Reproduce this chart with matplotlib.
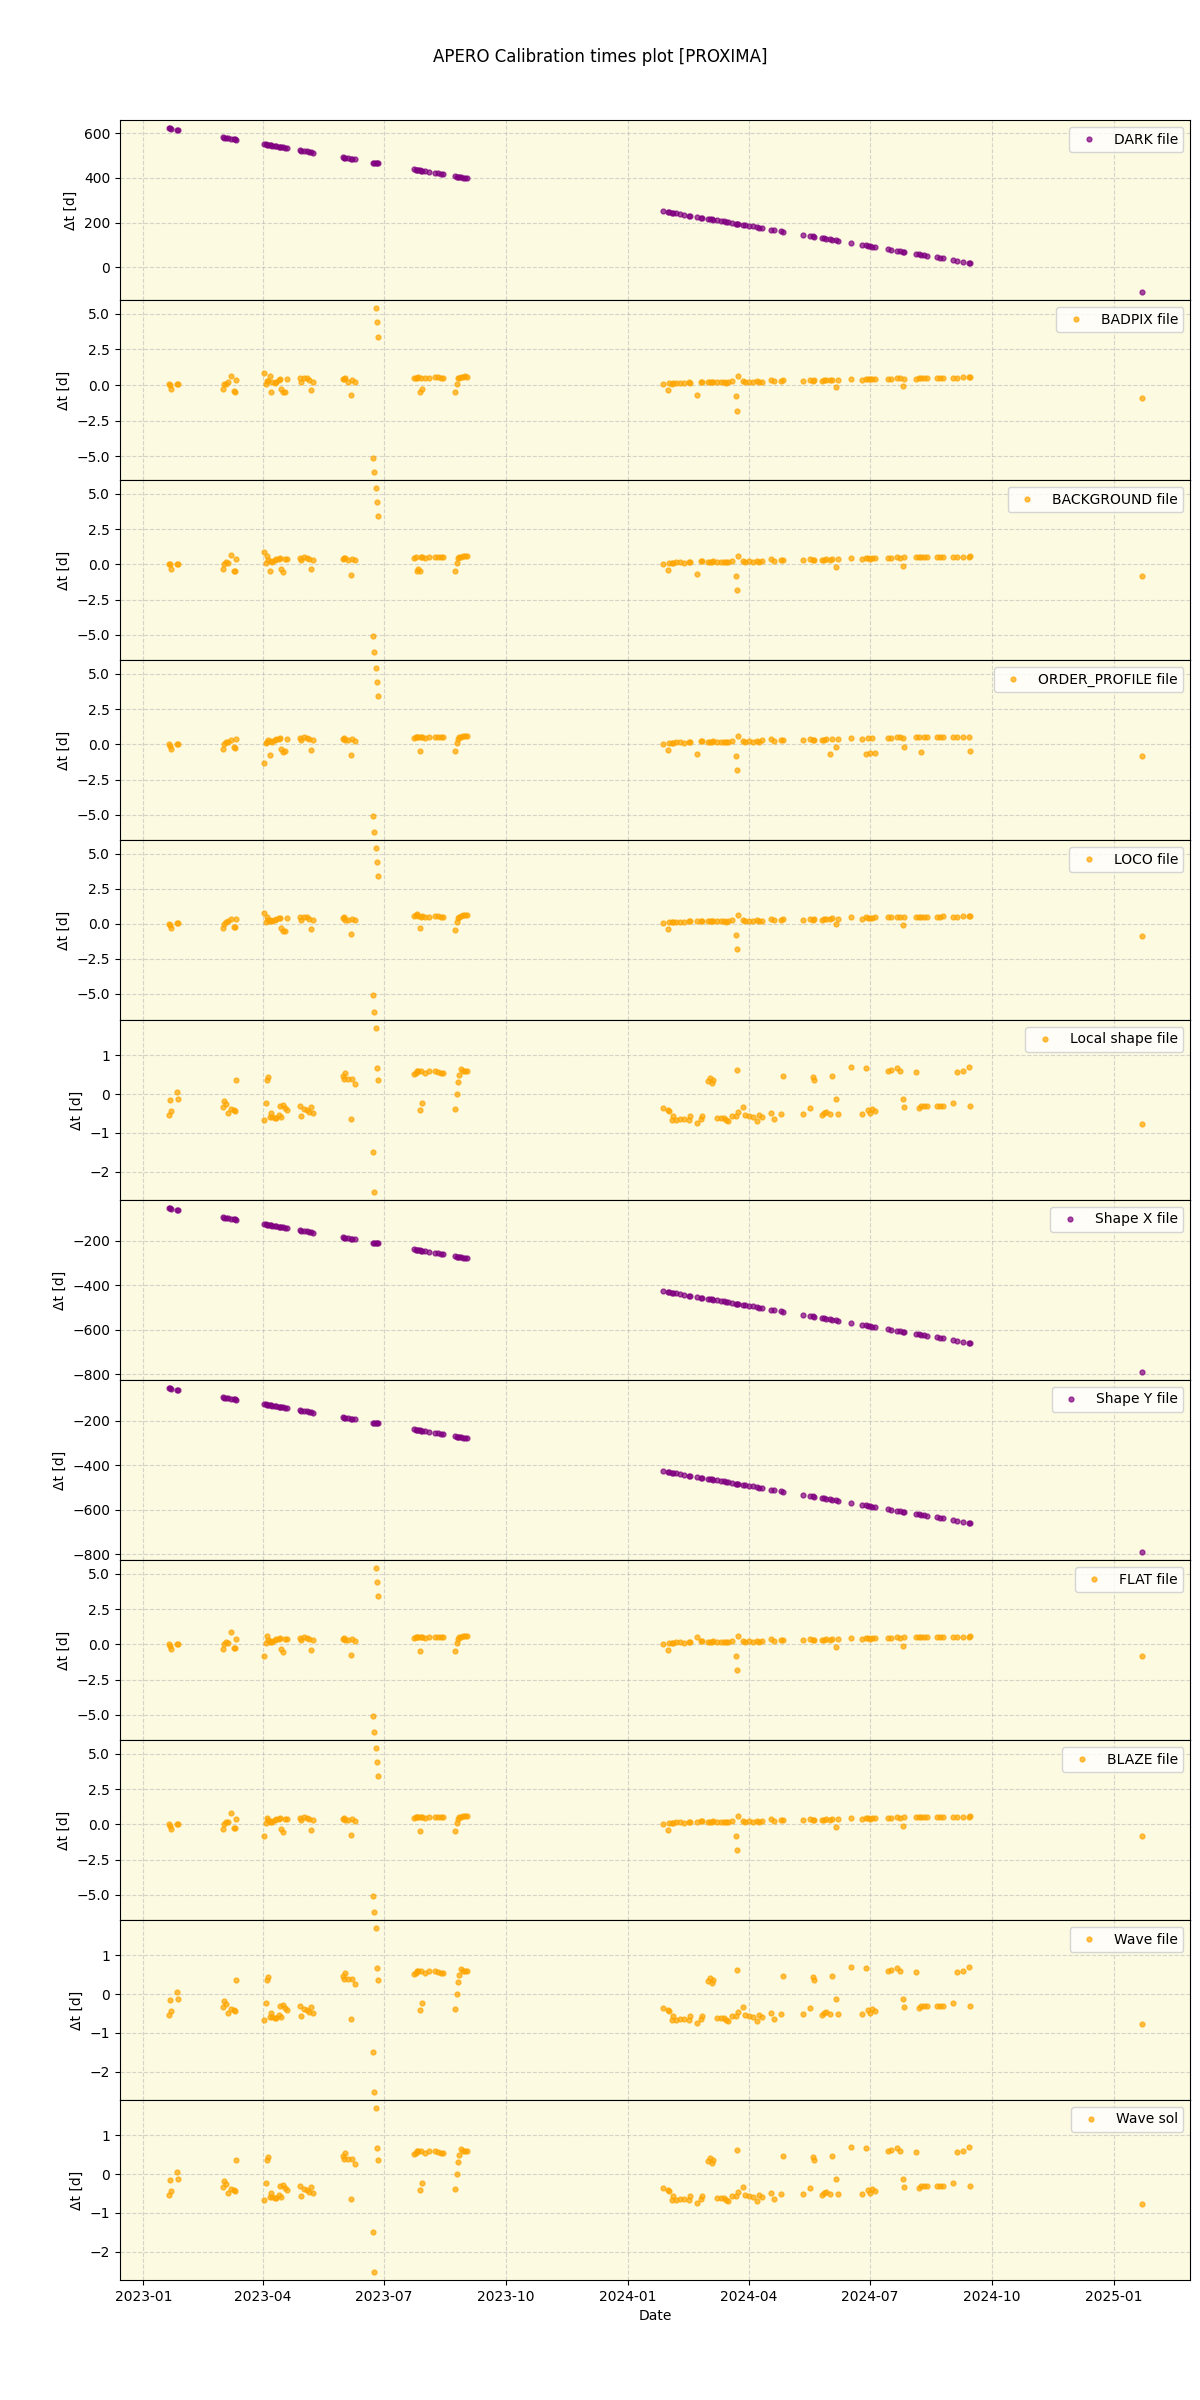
import pandas as pd
import matplotlib
matplotlib.use("Agg")
import matplotlib.pyplot as plt

# observation nights (shared by every panel)
obs_dates = [
    # 2023
    '2023-01-20', '2023-01-21', '2023-01-22', '2023-01-26', '2023-01-27',
    '2023-03-02', '2023-03-03', '2023-03-04', '2023-03-06', '2023-03-08', '2023-03-10', '2023-03-11', '2023-03-12',
    '2023-04-02', '2023-04-03', '2023-04-04', '2023-04-05', '2023-04-06', '2023-04-07', '2023-04-08', '2023-04-10',
    '2023-04-11', '2023-04-13', '2023-04-14', '2023-04-15', '2023-04-16', '2023-04-18', '2023-04-19',
    '2023-04-29', '2023-04-30', '2023-05-02', '2023-05-04', '2023-05-06', '2023-05-07', '2023-05-09',
    '2023-05-31', '2023-06-01', '2023-06-02', '2023-06-04', '2023-06-06', '2023-06-07', '2023-06-09',
    '2023-06-23', '2023-06-24', '2023-06-25', '2023-06-26', '2023-06-27',
    '2023-07-24', '2023-07-25', '2023-07-26', '2023-07-27', '2023-07-28', '2023-07-29', '2023-07-30', '2023-08-01', '2023-08-04',
    '2023-08-09', '2023-08-11', '2023-08-13', '2023-08-15',
    '2023-08-24', '2023-08-25', '2023-08-26', '2023-08-27', '2023-08-28', '2023-08-30', '2023-08-31', '2023-09-02',
    # 2024
    '2024-01-27', '2024-01-31', '2024-02-01', '2024-02-03', '2024-02-04', '2024-02-06', '2024-02-09', '2024-02-12',
    '2024-02-16', '2024-02-17', '2024-02-22', '2024-02-25', '2024-02-26',
    '2024-03-01', '2024-03-03', '2024-03-04', '2024-03-05', '2024-03-08', '2024-03-11', '2024-03-13', '2024-03-15',
    '2024-03-16', '2024-03-19', '2024-03-22', '2024-03-23', '2024-03-24', '2024-03-28', '2024-03-29',
    '2024-04-01', '2024-04-04', '2024-04-07', '2024-04-09', '2024-04-11', '2024-04-18', '2024-04-20', '2024-04-25', '2024-04-27',
    '2024-05-12', '2024-05-17', '2024-05-19', '2024-05-20', '2024-05-26', '2024-05-28', '2024-05-29', '2024-06-01',
    '2024-06-03', '2024-06-06', '2024-06-07', '2024-06-17',
    '2024-06-25', '2024-06-28', '2024-06-30', '2024-07-01', '2024-07-03', '2024-07-05', '2024-07-15', '2024-07-17',
    '2024-07-22', '2024-07-24', '2024-07-26', '2024-07-27',
    '2024-08-05', '2024-08-07', '2024-08-09', '2024-08-11', '2024-08-13', '2024-08-21', '2024-08-23', '2024-08-25',
    '2024-09-02', '2024-09-05', '2024-09-09', '2024-09-14', '2024-09-15',
    '2025-01-22',
]

dt_dark = [
    623, 622, 621, 617, 616,
    582, 581, 580, 578, 576, 574, 573, 572,
    551, 550, 549, 548, 547, 546, 545, 543, 542, 540, 539, 538, 537, 535, 534,
    524, 523, 521, 519, 517, 516, 514,
    492, 491, 490, 488, 486, 485, 483,
    469, 468, 467, 466, 465,
    438, 437, 436, 435, 434, 433, 432, 430, 427,
    422, 420, 418, 416,
    407, 406, 405, 404, 403, 401, 400, 398,
    251, 247, 246, 244, 243, 241, 238, 235, 231, 230, 225, 222, 221,
    217, 215, 214, 213, 210, 207, 205, 203, 202, 199, 196, 195, 194, 190, 189,
    186, 183, 180, 178, 176, 169, 167, 162, 160,
    145, 140, 138, 137, 131, 129, 128, 125, 123, 120, 119, 109,
    101, 98, 96, 95, 93, 91, 81, 79, 74, 72, 70, 69,
    60, 58, 56, 54, 52, 44, 42, 40, 32, 29, 25, 20, 19,
    -110,
]

dt_shape = [
    -55, -56, -57, -61, -62,
    -96, -97, -98, -100, -102, -104, -105, -106,
    -127, -128, -129, -130, -131, -132, -133, -135, -136, -138, -139, -140, -141, -143, -144,
    -154, -155, -157, -159, -161, -162, -164,
    -186, -187, -188, -190, -192, -193, -195,
    -209, -210, -211, -212, -213,
    -240, -241, -242, -243, -244, -245, -246, -248, -251,
    -256, -258, -260, -262,
    -271, -272, -273, -274, -275, -277, -278, -280,
    -427, -431, -432, -434, -435, -437, -440, -443, -447, -448, -453, -456, -457,
    -461, -463, -464, -465, -468, -471, -473, -475, -476, -479, -482, -483, -484, -488, -489,
    -492, -495, -498, -500, -502, -509, -511, -516, -518,
    -533, -538, -540, -541, -547, -549, -550, -553, -555, -558, -559, -569,
    -577, -580, -582, -583, -585, -587, -597, -599, -604, -606, -608, -609,
    -618, -620, -622, -624, -626, -634, -636, -638, -646, -649, -653, -658, -659,
    -788,
]

dt_badpix = [
    0.05, 0.0, -0.3, 0.05, 0.08,
    -0.3, 0.05, 0.1, 0.2, 0.64, -0.45, -0.47, 0.35,
    0.83, 0.07, 0.3, 0.28, 0.64, -0.52, 0.24, 0.12, 0.2, 0.35, 0.4, -0.3, -0.52, -0.52, 0.4,
    0.47, 0.24, 0.5, 0.47, 0.35, -0.35, 0.24,
    0.4, 0.45, 0.47, 0.24, -0.73, 0.35, 0.24,
    -5.1, -6.1, 5.4, 4.4, 3.4,
    0.47, 0.5, 0.52, 0.59, -0.47, 0.5, -0.3, 0.47, 0.47,
    0.59, 0.55, 0.5, 0.5,
    -0.47, 0.07, 0.47, 0.5, 0.55, 0.59, 0.6, 0.59,
    0.05, -0.35, 0.12, 0.1, 0.12, 0.12, 0.15, 0.12, 0.18, 0.15, -0.73, 0.2, 0.22,
    0.2, 0.18, 0.2, 0.22, 0.2, 0.18, 0.2, 0.15, 0.2, 0.25, -0.8, -1.8, 0.64, 0.25, 0.2,
    0.22, 0.2, 0.25, 0.2, 0.22, 0.35, 0.25, 0.3, 0.33,
    0.27, 0.35, 0.3, 0.33, 0.3, 0.33, 0.35, 0.33, 0.38, -0.17, 0.35, 0.45,
    0.35, 0.45, 0.42, 0.4, 0.42, 0.4, 0.4, 0.45, 0.48, 0.47, -0.07, 0.45,
    0.45, 0.48, 0.5, 0.5, 0.5, 0.48, 0.5, 0.5, 0.5, 0.48, 0.55, 0.55, 0.57,
    -0.88,
]

dt_background = [
    0.05, 0.0, -0.3, 0.05, 0.05,
    -0.3, 0.0, 0.2, 0.1, 0.65, -0.45, -0.5, 0.35,
    0.85, 0.1, 0.6, 0.3, -0.5, 0.25, 0.2, 0.3, 0.35, 0.4, 0.42, -0.3, -0.55, 0.4, 0.4,
    0.47, 0.3, 0.5, 0.47, 0.35, -0.35, 0.3,
    0.4, 0.45, 0.47, 0.3, -0.75, 0.35, 0.3,
    -5.1, -6.2, 5.4, 4.4, 3.4,
    0.47, 0.5, -0.45, -0.3, -0.5, 0.5, 0.52, 0.47, 0.5,
    0.55, 0.55, 0.5, 0.5,
    -0.45, 0.07, 0.47, 0.5, 0.55, 0.59, 0.6, 0.59,
    0.05, -0.38, 0.12, 0.1, 0.12, 0.15, 0.15, 0.12, 0.2, 0.18, -0.7, 0.22, 0.22,
    0.2, 0.18, 0.2, 0.22, 0.2, 0.18, 0.2, 0.15, 0.2, 0.25, -0.8, -1.8, 0.62, 0.25, 0.2,
    0.22, 0.2, 0.25, 0.2, 0.22, 0.35, 0.25, 0.3, 0.33,
    0.3, 0.35, 0.3, 0.33, 0.3, 0.33, 0.35, 0.33, 0.38, -0.2, 0.35, 0.48,
    0.35, 0.45, 0.42, 0.4, 0.42, 0.45, 0.45, 0.45, 0.5, 0.47, -0.1, 0.5,
    0.5, 0.5, 0.5, 0.5, 0.5, 0.5, 0.5, 0.52, 0.5, 0.5, 0.55, 0.55, 0.57,
    -0.85,
]

dt_order_profile = [
    0.0, -0.1, -0.3, 0.05, 0.05,
    -0.3, 0.0, 0.15, 0.2, 0.3, -0.2, -0.25, 0.35,
    -1.3, 0.1, 0.2, 0.3, -0.75, 0.25, 0.2, 0.3, 0.35, 0.4, 0.42, -0.3, -0.55, -0.5, 0.4,
    0.47, 0.3, 0.5, 0.45, 0.35, -0.4, 0.3,
    0.4, 0.45, 0.3, 0.3, -0.75, 0.35, 0.25,
    -5.1, -6.2, 5.4, 4.4, 3.4,
    0.47, 0.5, 0.52, 0.55, -0.45, 0.5, 0.52, 0.47, 0.5,
    0.55, 0.55, 0.5, 0.5,
    -0.45, 0.1, 0.4, 0.5, 0.55, 0.59, 0.6, 0.59,
    0.05, -0.4, 0.12, 0.1, 0.12, 0.15, 0.15, 0.12, 0.2, 0.18, -0.7, 0.22, 0.22,
    0.2, 0.18, 0.2, 0.22, 0.2, 0.18, 0.2, 0.15, 0.2, 0.25, -0.8, -1.8, 0.6, 0.25, 0.2,
    0.22, 0.2, 0.25, 0.2, 0.3, 0.35, 0.25, 0.3, 0.33,
    0.3, 0.35, 0.3, 0.33, 0.3, 0.33, 0.35, -0.65, 0.38, -0.2, 0.35, 0.48,
    0.35, -0.65, 0.42, -0.6, 0.45, -0.6, 0.45, 0.45, 0.5, 0.5, 0.47, -0.2,
    0.5, 0.5, -0.55, 0.5, 0.5, 0.5, 0.5, 0.52, 0.5, 0.5, 0.55, 0.55, -0.45,
    -0.85,
]

dt_loco = [
    0.0, -0.1, -0.3, 0.05, 0.05,
    -0.3, 0.0, 0.1, 0.2, 0.35, -0.2, -0.25, 0.35,
    0.75, 0.1, 0.5, 0.3, 0.2, 0.25, 0.2, 0.3, 0.35, 0.4, 0.42, -0.3, -0.55, -0.5, 0.4,
    0.47, 0.3, 0.5, 0.45, 0.35, -0.35, 0.3,
    0.4, 0.45, 0.3, 0.3, -0.75, 0.35, 0.25,
    -5.1, -6.3, 5.4, 4.4, 3.4,
    0.55, 0.6, 0.7, 0.55, -0.3, 0.5, 0.52, 0.47, 0.5,
    0.55, 0.55, 0.5, 0.5,
    -0.45, 0.1, 0.4, 0.5, 0.55, 0.59, 0.6, 0.59,
    0.05, -0.4, 0.12, 0.1, 0.12, 0.15, 0.15, 0.12, 0.2, 0.18, 0.2, 0.22, 0.22,
    0.2, 0.18, 0.2, 0.22, 0.2, 0.18, 0.2, 0.15, 0.2, 0.25, -0.8, -1.8, 0.6, 0.25, 0.2,
    0.22, 0.2, 0.25, 0.2, 0.22, 0.35, 0.25, 0.3, 0.33,
    0.3, 0.35, 0.3, 0.33, 0.3, 0.33, 0.35, 0.33, 0.38, -0.05, 0.35, 0.48,
    0.35, 0.45, 0.42, 0.4, 0.42, 0.45, 0.45, 0.45, 0.5, 0.47, -0.1, 0.5,
    0.5, 0.5, 0.5, 0.5, 0.5, 0.5, 0.5, 0.52, 0.5, 0.5, 0.55, 0.55, 0.57,
    -0.85,
]

dt_local_shape = [
    -0.53, -0.15, -0.43, 0.06, -0.12,
    -0.33, -0.17, -0.25, -0.49, -0.38, -0.42, -0.44, 0.36,
    -0.66, -0.23, 0.36, 0.44, -0.6, -0.49, -0.59, -0.62, -0.62, -0.54, -0.32, -0.59, -0.28, -0.36, -0.4,
    -0.3, -0.56, -0.38, -0.42, -0.45, -0.33, -0.49,
    0.47, 0.38, 0.54, 0.38, -0.64, 0.38, 0.27,
    -1.49, -2.51, 1.69, 0.66, 0.36,
    0.52, 0.55, 0.58, 0.6, -0.4, 0.58, -0.23, 0.55, 0.58,
    0.59, 0.57, 0.55, 0.55,
    -0.38, 0.0, 0.3, 0.5, 0.65, 0.6, 0.6, 0.59,
    -0.36, -0.4, -0.44, -0.66, -0.57, -0.66, -0.64, -0.64, -0.66, -0.57, -0.74, -0.64, -0.57,
    0.33, 0.41, 0.28, 0.36, -0.62, -0.62, -0.62, -0.66, -0.68, -0.56, -0.57, 0.62, -0.47, -0.33, -0.53,
    -0.57, -0.59, -0.7, -0.53, -0.59, -0.49, -0.64, -0.5, 0.46,
    -0.51, -0.36, 0.44, 0.36, -0.53, -0.49, -0.46, -0.51, 0.46, -0.13, -0.51, 0.69,
    -0.51, 0.67, -0.4, -0.49, -0.38, -0.43, 0.6, 0.62, 0.67, 0.6, -0.13, -0.33,
    0.57, -0.36, -0.32, -0.3, -0.3, -0.32, -0.3, -0.3, -0.23, 0.57, 0.58, 0.69, -0.31,
    -0.76,
]

dt_flat = [
    0.0, -0.1, -0.3, 0.05, 0.05,
    -0.3, 0.0, 0.15, 0.1, 0.85, -0.25, -0.25, 0.35,
    -0.8, 0.1, 0.6, 0.3, 0.2, 0.25, 0.2, 0.3, 0.35, 0.4, 0.42, -0.35, -0.55, 0.4, 0.4,
    0.47, 0.3, 0.5, 0.45, 0.35, -0.4, 0.3,
    0.4, 0.45, 0.3, 0.3, -0.75, 0.35, 0.25,
    -5.1, -6.2, 5.4, 4.4, 3.4,
    0.47, 0.5, 0.52, 0.55, -0.45, 0.5, 0.52, 0.47, 0.5,
    0.55, 0.55, 0.5, 0.5,
    -0.45, 0.1, 0.4, 0.5, 0.55, 0.59, 0.6, 0.59,
    0.05, -0.38, 0.12, 0.1, 0.12, 0.15, 0.15, 0.12, 0.2, 0.18, 0.5, 0.22, 0.22,
    0.2, 0.18, 0.2, 0.22, 0.2, 0.18, 0.2, 0.15, 0.2, 0.25, -0.8, -1.8, 0.62, 0.25, 0.2,
    0.22, 0.2, 0.25, 0.2, 0.22, 0.35, 0.25, 0.3, 0.33,
    0.3, 0.35, 0.3, 0.33, 0.3, 0.33, 0.35, 0.33, 0.38, -0.2, 0.35, 0.48,
    0.35, 0.45, 0.42, 0.4, 0.42, 0.45, 0.45, 0.45, 0.5, 0.47, -0.15, 0.5,
    0.5, 0.5, 0.5, 0.5, 0.5, 0.5, 0.5, 0.52, 0.5, 0.5, 0.55, 0.55, 0.57,
    -0.85,
]

dt_blaze = [
    0.0, -0.1, -0.3, 0.05, 0.05,
    -0.3, 0.0, 0.15, 0.2, 0.8, -0.25, -0.25, 0.35,
    -0.8, 0.1, 0.45, 0.3, 0.2, 0.25, 0.2, 0.3, 0.35, 0.4, 0.42, -0.35, -0.55, 0.4, 0.4,
    0.47, 0.3, 0.5, 0.45, 0.35, -0.4, 0.3,
    0.4, 0.45, 0.3, 0.3, -0.75, 0.35, 0.25,
    -5.1, -6.2, 5.4, 4.4, 3.4,
    0.47, 0.5, 0.52, 0.55, -0.45, 0.5, 0.52, 0.47, 0.5,
    0.55, 0.55, 0.5, 0.5,
    -0.45, 0.1, 0.4, 0.5, 0.55, 0.59, 0.6, 0.59,
    0.05, -0.38, 0.12, 0.1, 0.12, 0.15, 0.15, 0.12, 0.2, 0.18, 0.2, 0.22, 0.22,
    0.2, 0.18, 0.2, 0.22, 0.2, 0.18, 0.2, 0.15, 0.2, 0.25, -0.8, -1.8, 0.62, 0.25, 0.2,
    0.22, 0.2, 0.25, 0.2, 0.22, 0.35, 0.25, 0.3, 0.33,
    0.3, 0.35, 0.3, 0.33, 0.3, 0.33, 0.35, 0.33, 0.38, -0.2, 0.35, 0.48,
    0.35, 0.45, 0.42, 0.4, 0.42, 0.45, 0.45, 0.45, 0.5, 0.47, -0.1, 0.5,
    0.5, 0.5, 0.5, 0.5, 0.5, 0.5, 0.5, 0.52, 0.5, 0.5, 0.55, 0.55, 0.57,
    -0.85,
]

panel_labels = ['DARK file', 'BADPIX file', 'BACKGROUND file', 'ORDER_PROFILE file', 'LOCO file',
                'Local shape file', 'Shape X file', 'Shape Y file', 'FLAT file', 'BLAZE file',
                'Wave file', 'Wave sol']
panel_values = [dt_dark, dt_badpix, dt_background, dt_order_profile, dt_loco,
                dt_local_shape, dt_shape, dt_shape, dt_flat, dt_blaze,
                dt_local_shape, dt_local_shape]
panel_colors = ['purple', 'orange', 'orange', 'orange', 'orange',
                'orange', 'purple', 'purple', 'orange', 'orange',
                'orange', 'orange']

for lab, vals in zip(panel_labels, panel_values):
    if len(vals) != len(obs_dates):
        raise ValueError(f'{lab}: {len(vals)} values, {len(obs_dates)} dates')

dates = pd.to_datetime(obs_dates)

fig, axes = plt.subplots(len(panel_labels), 1, figsize=(12, 24), sharex=True)
fig.subplots_adjust(left=0.1, right=0.992, top=0.95, bottom=0.05, hspace=0)
fig.suptitle('APERO Calibration times plot [PROXIMA]', fontsize=12)

for ax, lab, vals, col in zip(axes, panel_labels, panel_values, panel_colors):
    ax.set_facecolor('#fcfae1')
    ax.plot(dates, vals, '.', ms=7, color=col, alpha=0.7, label=lab)
    ax.set_ylabel('Δt [d]')
    ax.grid(True, linestyle='--', alpha=0.5)
    ax.legend(loc='upper right')

axes[-1].set_xlabel('Date')

fig.savefig('out.png', dpi=100)
